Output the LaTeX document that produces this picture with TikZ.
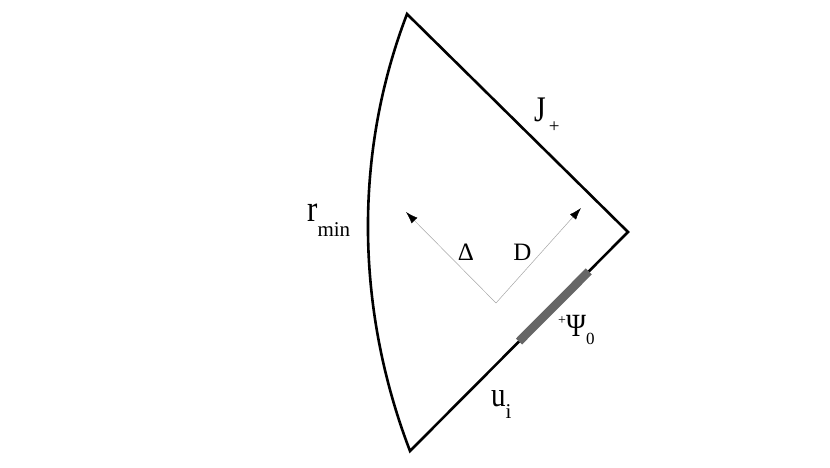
\documentclass[tikz,border=0pt]{standalone}
\usepackage{fontspec}
\setmainfont{Liberation Serif}
\usetikzlibrary{arrows.meta, calc, positioning}

\newcommand{\fsz}[1]{\fontsize{#1}{#1}\selectfont}
\newcommand{\tall}[1]{\scalebox{1}[1.2]{#1}}

\begin{document}
\begin{tikzpicture}[x=1pt, y=-1pt, >={Latex[length=12pt, width=8pt, color=black]}]
    \useasboundingbox (0,0) rectangle (830,467);

    \coordinate (top) at (407,14);
    \coordinate (tip) at (628,232);
    \coordinate (bot) at (410,451);
    \coordinate (origin) at (496,303);
    \coordinate (deltaend) at (406,212);
    \coordinate (dend) at (581,208);

    % boundary: scri, u_i and r_min
    \draw[line width=2.6pt, line join=miter] (bot) -- (tip) -- (top) .. controls (353,155) and (356,310) .. (bot) -- cycle;

    % data on the null surface
    \draw[line width=8.5pt, black!60] ($(tip)!0.18!(bot)$) -- ($(tip)!0.50!(bot)$);

    % directions
    \draw[->, line width=0.5pt, black!35] (origin) -- (deltaend);
    \draw[->, line width=0.5pt, black!35] (origin) -- (dend);

    \node[inner sep=0, anchor=base west, font=\fsz{30}] (scri) at (534,121) {\tall{J}\hspace{3pt}\raisebox{-11pt}{\fsz{19}+}};
    \node[inner sep=0, anchor=base west, font=\fsz{31}] (rmin) at (307,221) {\tall{r}\raisebox{-15pt}{\fsz{21}min}};
    \node[inner sep=0, font=\fsz{25}] (delta) at (466,252.5) {Δ};
    \node[inner sep=0, font=\fsz{25}] (dlabel) at (522.5,252.5) {D};
    \node[inner sep=0, anchor=base west, font=\fsz{27}] (psi) at (558,336) {\raisebox{12pt}{\fsz{14}+}\tall{Ψ}\raisebox{-8pt}{\fsz{17}0}};
    \node[inner sep=0, anchor=base west, font=\fsz{29}] (ui) at (491,406) {\tall{u}\raisebox{-12pt}{\fsz{21}i}};
\end{tikzpicture}
\end{document}
